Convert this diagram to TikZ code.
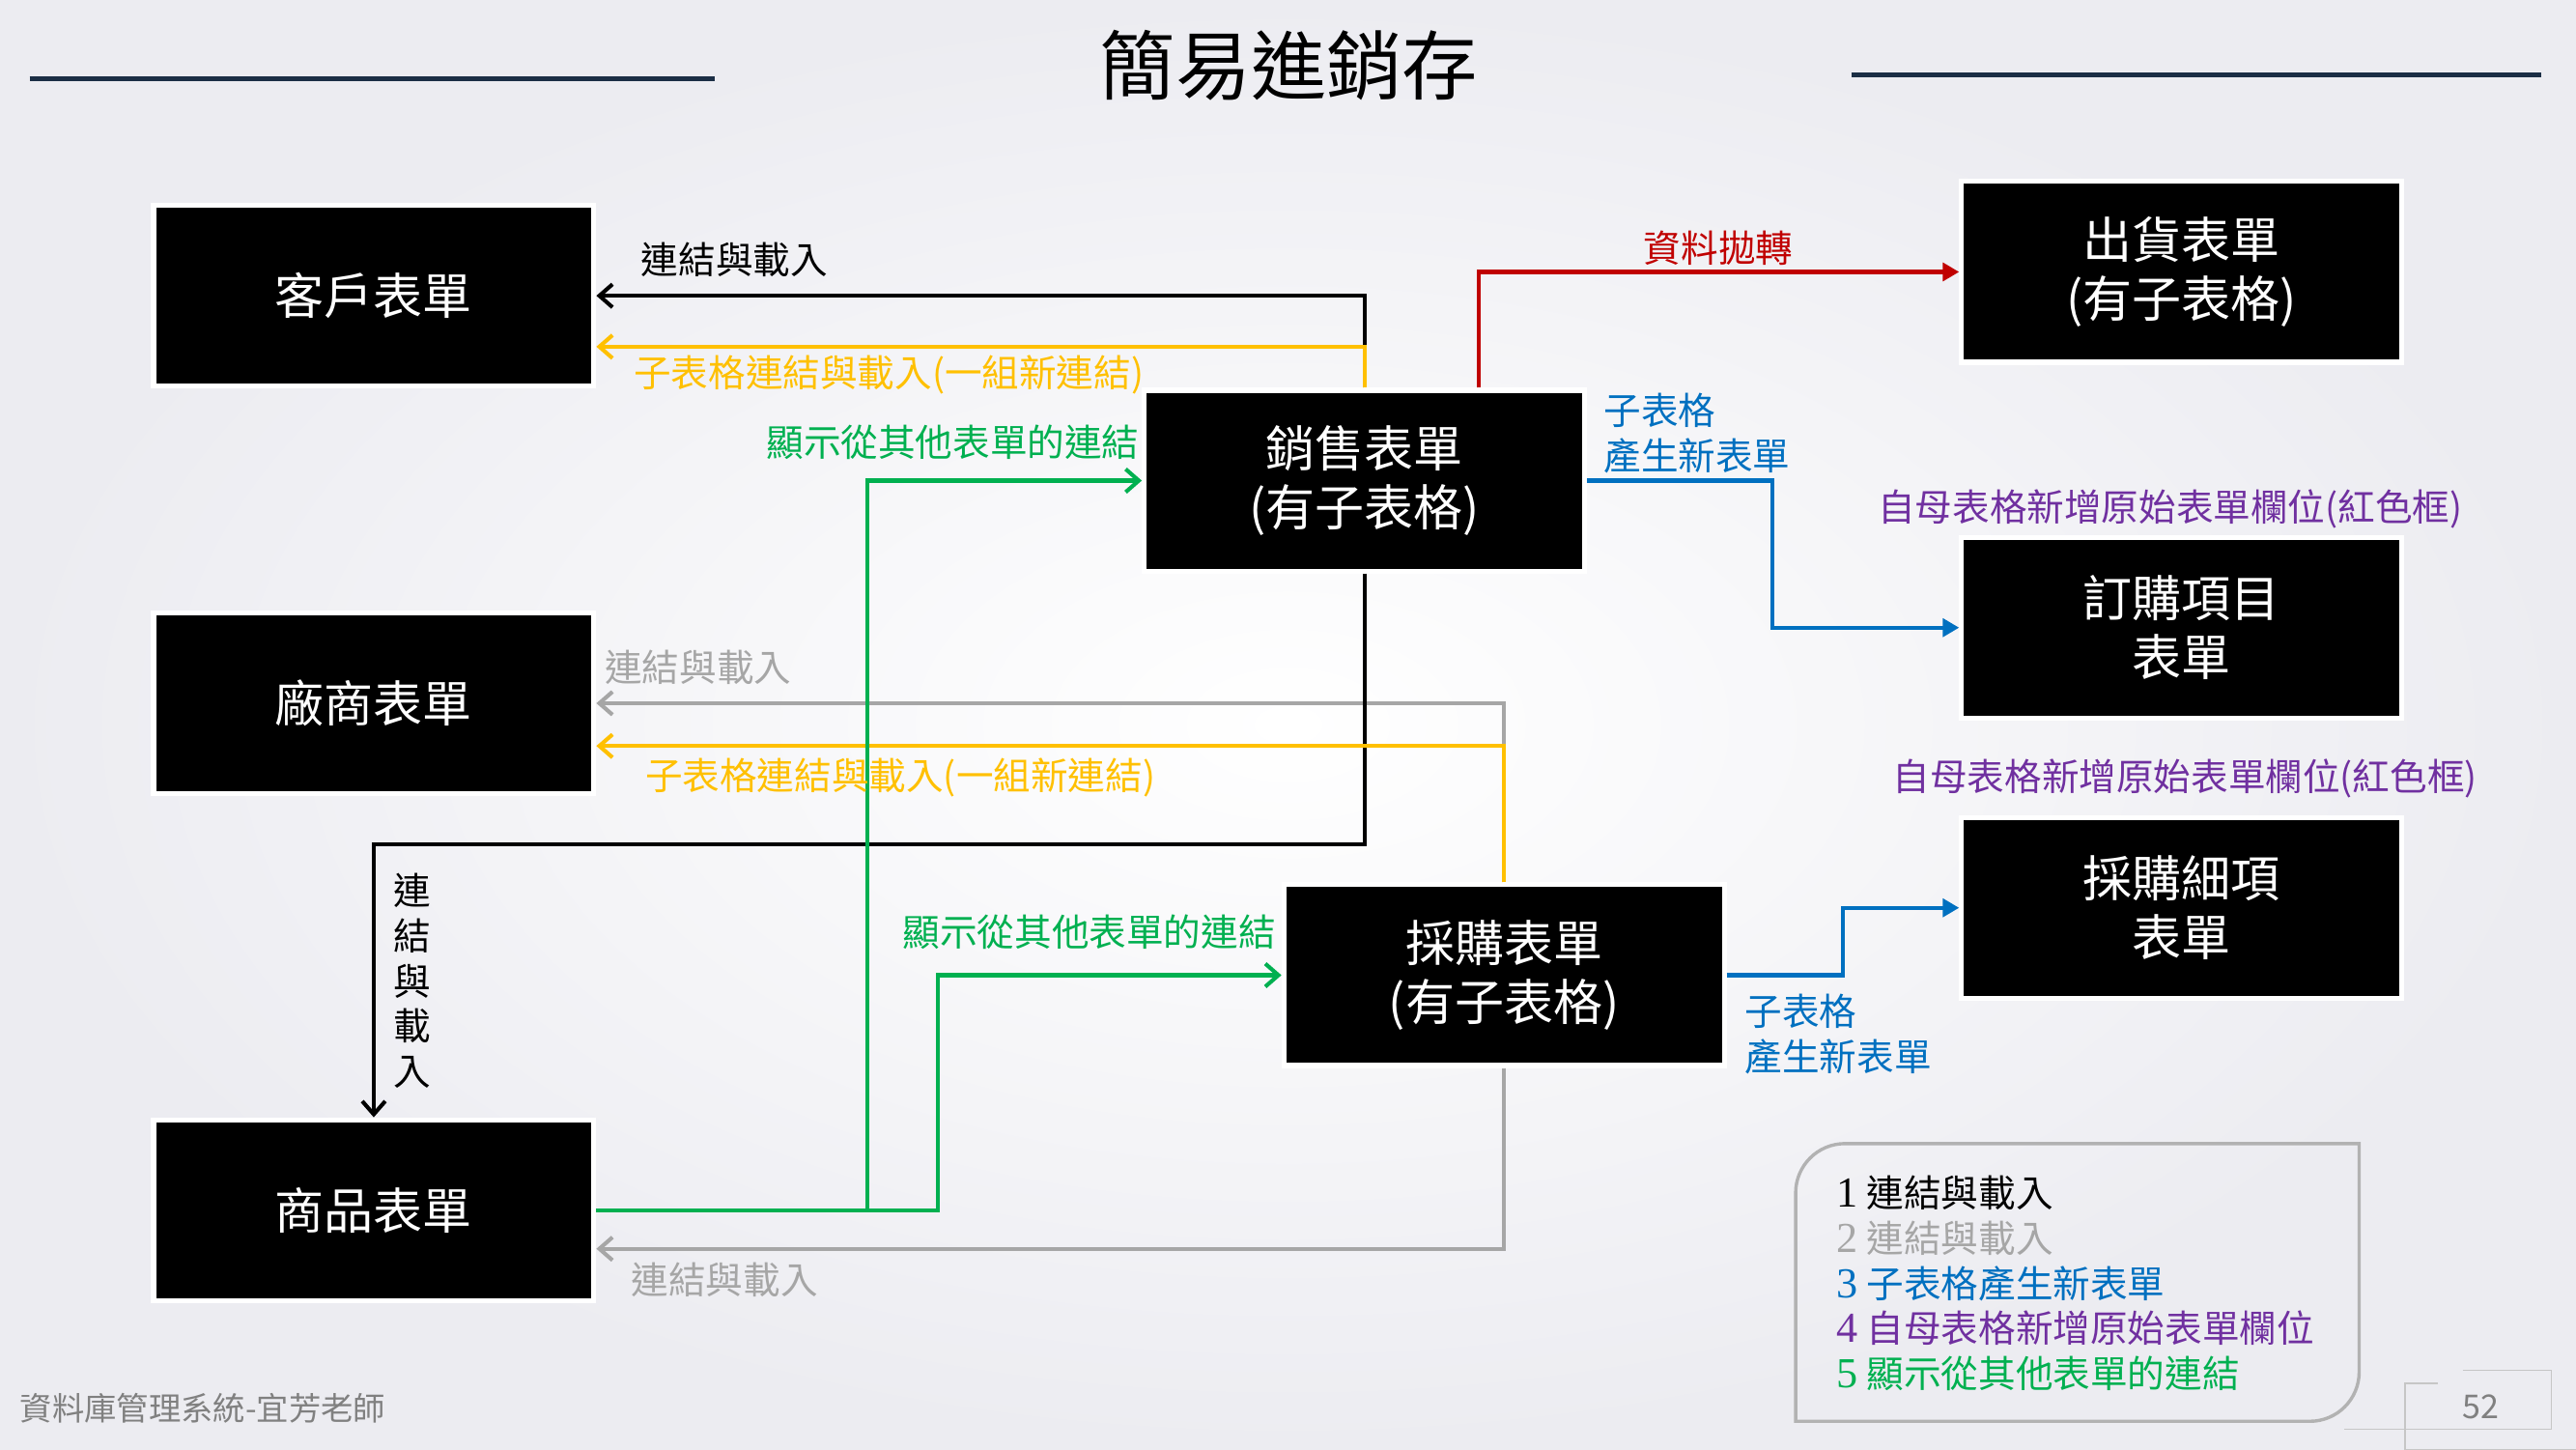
\documentclass[tikz,border=0pt]{standalone}
\usepackage{fontspec}
\setmainfont{Noto Sans CJK TC}
\newfontfamily\serifnum{Liberation Serif}
\usetikzlibrary{arrows.meta,calc}
\definecolor{navy}{HTML}{1B2E45}
\definecolor{cyel}{HTML}{FFC000}
\definecolor{cgrn}{HTML}{00B050}
\definecolor{cred}{HTML}{C00000}
\definecolor{cblu}{HTML}{0070C0}
\definecolor{cgry}{HTML}{A6A6A6}
\definecolor{cpur}{HTML}{7030A0}
\definecolor{bgout}{HTML}{ECECF1}
\definecolor{footg}{HTML}{808080}
\newcommand{\dig}[1]{{\fontsize{26}{27.5}\serifnum #1}}
\begin{document}
\begin{tikzpicture}[x=1pt,y=-1pt,
  formbox/.style={fill=black, draw=white, line width=3pt, minimum width=268pt,
    minimum height=110pt, inner sep=0pt, text=white, align=center,
    font=\fontsize{30}{36}\selectfont},
  lbl/.style={inner sep=0pt, font=\fontsize{22.7}{27.5}\selectfont},
  conn/.style={line width=2.4pt},
  opentip/.style={-{Straight Barb[length=8pt,width=14pt]}},
  filltip/.style={-{Triangle[length=10pt,width=11pt]}},
  pageline/.style={draw=gray!45, line width=0.8pt}
]
% background
\shade[inner color=white, outer color=bgout] (0,0) rectangle (1568,882);
\useasboundingbox (0,0) rectangle (1568,882);

% title and rules
\node[inner sep=0pt, font=\fontsize{46}{46}\selectfont] (title) at (784.5,40) {簡易進銷存};
\coordinate (r1a) at (18,48); \coordinate (r1b) at (435,48);
\coordinate (r2a) at (1127,45.5); \coordinate (r2b) at (1547,45.5);
\draw[navy, line width=3pt] (r1a) -- (r1b);
\draw[navy, line width=3pt] (r2a) -- (r2b);

% boxes
\node[formbox] (kh) at (227.5,180) {客戶表單};
\node[formbox] (cs) at (227.5,428) {廠商表單};
\node[formbox] (sp) at (227.5,736.5) {商品表單};
\node[formbox] (xs) at (830.5,292.5) {銷售表單\\(有子表格)};
\node[formbox] (cg) at (915.5,593.5) {採購表單\\(有子表格)};
\node[formbox] (ch) at (1328,165.5) {出貨表單\\(有子表格)};
\node[formbox] (dg) at (1328,382) {訂購項目\\表單};
\node[formbox] (xj) at (1328,552.5) {採購細項\\表單};

% helper coordinates
\coordinate (b2) at (0,514);
\coordinate (g1) at (528,0);
\coordinate (g2) at (571,0);
\coordinate (bl1) at (1079,0);
\coordinate (bl2) at (1122,0);

% connectors
\draw[conn, cgry, opentip] (cg.north) |- (cs.east);
\draw[conn, cgry, opentip] (cg.south) |- ([yshift=-23.5pt]sp.east);
\draw[conn, black, opentip] (xs.north) |- (kh.east);
\draw[conn, black, opentip] (xs.south) -- (xs.south |- b2) -| (sp.north);
\draw[conn, cyel, opentip] (xs.north) |- ([yshift=-31pt]kh.east);
\draw[conn, cyel, opentip] (cg.north) |- ([yshift=-26pt]cs.east);
\draw[conn, cgrn, opentip] (sp.east) -| (g1 |- xs.west) -- (xs.west);
\draw[conn, cgrn, opentip] (sp.east) -| (g2 |- cg.west) -- (cg.west);
\draw[conn, cred, filltip] ([xshift=69.5pt]xs.north) |- (ch.west);
\draw[conn, cblu, filltip] (xs.east) -| (bl1 |- dg.west) -- (dg.west);
\draw[conn, cblu, filltip] (cg.east) -| (bl2 |- xj.west) -- (xj.west);

% labels
\node[lbl, text=black] (l1) at (447,158) {連結與載入};
\node[lbl, text=cyel] (l2) at (541,228) {子表格連結與載入(一組新連結)};
\node[lbl, text=cgrn] (l3) at (580,269) {顯示從其他表單的連結};
\node[lbl, text=cred] (l4) at (1046,151) {資料拋轉};
\node[lbl, text=cblu, anchor=west, align=left] (l5) at (976,263.5) {子表格\\產生新表單};
\node[lbl, text=cpur] (l6) at (1321,310) {自母表格新增原始表單欄位(紅色框)};
\node[lbl, text=cgry] (l7) at (425,406) {連結與載入};
\node[lbl, text=cyel] (l8) at (548,473) {子表格連結與載入(一組新連結)};
\node[lbl, text=cpur] (l9) at (1330,474) {自母表格新增原始表單欄位(紅色框)};
\node[lbl, text=black, align=center] (l10) at (251,597) {連\\結\\與\\載\\入};
\node[lbl, text=cgrn] (l11) at (663,567) {顯示從其他表單的連結};
\node[lbl, text=cblu, anchor=west, align=left] (l12) at (1062,629.5) {子表格\\產生新表單};
\node[lbl, text=cgry] (l13) at (441,779) {連結與載入};

% legend box
\draw[draw=gray!60, line width=2pt]
  (1093,865) -- (1093,726) arc[start angle=180, end angle=90, radius=30pt]
  -- (1436,696) -- (1436,835) arc[start angle=0, end angle=-90, radius=30pt]
  -- cycle;
\node[lbl, anchor=west, text=black] (k1) at (1118,726) {\dig{1} 連結與載入};
\node[lbl, anchor=west, text=cgry] (k2) at (1118,753.5) {\dig{2} 連結與載入};
\node[lbl, anchor=west, text=cblu] (k3) at (1118,781) {\dig{3} 子表格產生新表單};
\node[lbl, anchor=west, text=cpur] (k4) at (1118,808.5) {\dig{4} 自母表格新增原始表單欄位};
\node[lbl, anchor=west, text=cgrn] (k5) at (1118,836) {\dig{5} 顯示從其他表單的連結};

% footer
\node[inner sep=0pt, anchor=west, text=footg, font=\fontsize{19.6}{19.6}\selectfont] (foot) at (12,857) {資料庫管理系統-宜芳老師};
\draw[pageline] (1499,834) -- (1553,834) -- (1553,870) -- (1427,870);
\draw[pageline] (1484,842) -- (1464,842) -- (1464,882) -- (1568,882);
\node[inner sep=0pt, text=footg, font=\fontsize{20}{20}\selectfont] (pg) at (1510,856) {52};
\end{tikzpicture}
\end{document}
